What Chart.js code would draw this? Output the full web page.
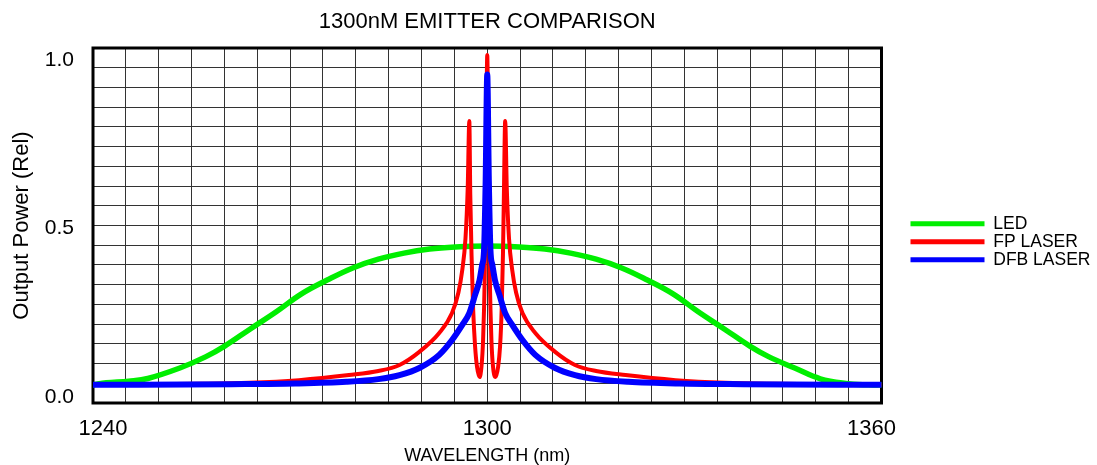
<!DOCTYPE html>
<html>
<head>
<meta charset="utf-8">
<title>1300nM Emitter Comparison</title>
<script src="https://cdn.jsdelivr.net/npm/chart.js@4.4.0/dist/chart.umd.min.js"></script>
<style>
html,body{margin:0;padding:0;background:#fff;overflow:hidden}
</style>
</head>
<body>
<canvas id="chart" width="1097" height="465"></canvas>
<script>
// series (wavelength in nm, relative output power)
const ledNm = [1238.4, 1240.5, 1244, 1247, 1252, 1256, 1259, 1263, 1267, 1271, 1275, 1279, 1283, 1287, 1291, 1295, 1300,
  1305, 1309, 1313, 1317, 1321, 1325, 1329, 1333, 1337, 1341, 1344, 1348, 1352, 1356, 1359.5, 1361.6];
const ledPower = [0.036, 0.042, 0.047, 0.055, 0.086, 0.119, 0.151, 0.202, 0.252, 0.306, 0.347, 0.383, 0.409, 0.427, 0.439, 0.445, 0.448,
  0.445, 0.439, 0.427, 0.409, 0.383, 0.347, 0.306, 0.252, 0.202, 0.151, 0.119, 0.086, 0.054, 0.040, 0.036, 0.036];

const fpNm = [1238.4, 1255, 1262.8, 1270.6, 1278.4, 1283, 1286.3, 1289.4, 1292.5, 1294.5, 1295.5, 1296.1, 1296.6, 1296.95,
  1297.2, 1297.35, 1297.55, 1297.8, 1298.1, 1298.4, 1298.8, 1299.1, 1299.35, 1299.6, 1299.8, 1300,
  1300.2, 1300.4, 1300.65, 1300.9, 1301.3, 1301.7, 1302.0, 1302.25, 1302.45, 1302.6, 1302.8,
  1303.05, 1303.4, 1303.9, 1304.5, 1305.5, 1307.5, 1310.6, 1313.7, 1317, 1321.6, 1329.4, 1337.2, 1345, 1361.6];
const fpPower = [0.036, 0.039, 0.042, 0.050, 0.065, 0.077, 0.095, 0.134, 0.190, 0.249, 0.31, 0.377, 0.47, 0.62,
  0.819, 0.60, 0.42, 0.26, 0.15, 0.09, 0.059, 0.09, 0.17, 0.35, 0.65, 1.015,
  0.65, 0.35, 0.17, 0.09, 0.059, 0.09, 0.15, 0.26, 0.42, 0.60, 0.819,
  0.62, 0.47, 0.377, 0.31, 0.249, 0.190, 0.134, 0.095, 0.077, 0.065, 0.050, 0.042, 0.039, 0.036];

const dfbNm = [1238.4, 1260, 1270, 1278, 1283, 1286.3, 1289.4, 1292.5, 1294.5, 1296.1, 1297.2, 1298.1, 1298.8, 1299.2, 1299.5, 1299.75, 1300,
  1300.25, 1300.5, 1300.8, 1301.2, 1301.9, 1302.8, 1303.9, 1305.5, 1307.5, 1310.6, 1313.7, 1317, 1322, 1330, 1340, 1361.6];
const dfbPower = [0.036, 0.038, 0.040, 0.045, 0.053, 0.065, 0.086, 0.125, 0.169, 0.214, 0.249, 0.303, 0.347, 0.392, 0.436, 0.64, 0.957,
  0.64, 0.436, 0.392, 0.347, 0.303, 0.249, 0.214, 0.169, 0.125, 0.086, 0.065, 0.053, 0.045, 0.040, 0.038, 0.036];

const xTickLabels = [1240, 1300, 1360];
const yTickLabels = [0, 0.5, 1];

// axis extents: 24 x 18 grid cells
const xMin = 1238.44, xMax = 1361.56, xCells = 24;
const yMin = -0.0178, yMax = 1.0356, yCells = 18;

const pts = (xs, ys) => xs.map((x, i) => ({x, y: ys[i]}));

// grid ticks at every cell edge + extra (grid-less) ticks where labels sit
function cellTicks(min, max, n, labels){
  const t = [];
  for(let k = 0; k <= n; k++) t.push({value: min + (max - min) * k / n, grid: true});
  labels.forEach(v => { if(!t.some(o => Math.abs(o.value - v) < 1e-6)) t.push({value: v, grid: false}); });
  return t.sort((a, b) => a.value - b.value);
}
const findLabel = (labels, v) => labels.find(l => Math.abs(l - v) < 1e-6);
const gridColor = c => c.tick && c.tick.grid ? '#333' : 'rgba(0,0,0,0)';

const frame = {
  id: 'frame',
  beforeDatasetsDraw(chart){
    const {ctx, chartArea: a} = chart;
    ctx.save();
    ctx.strokeStyle = '#000';
    ctx.lineWidth = 3;
    ctx.strokeRect(a.left, a.top, a.right - a.left, a.bottom - a.top);
    ctx.restore();
  }
};

Chart.defaults.font.family = '"Liberation Sans", Arial, sans-serif';
Chart.defaults.color = '#000';

const lineStyle = {pointRadius: 0, borderCapStyle: 'round', borderJoinStyle: 'round'};

new Chart(document.getElementById('chart'), {
  type: 'line',
  data: {
    // DFB first so it is painted on top; legend is reversed
    datasets: [
      {label: 'DFB LASER', data: pts(dfbNm, dfbPower), borderColor: '#0000ff', backgroundColor: '#0000ff', borderWidth: 6,
        cubicInterpolationMode: 'monotone', ...lineStyle},
      {label: 'FP LASER', data: pts(fpNm, fpPower), borderColor: '#ff0000', backgroundColor: '#ff0000', borderWidth: 4,
        cubicInterpolationMode: 'monotone', ...lineStyle},
      {label: 'LED', data: pts(ledNm, ledPower), borderColor: '#00ee00', backgroundColor: '#00ee00', borderWidth: 5.5,
        tension: 0.4, ...lineStyle}
    ]
  },
  options: {
    responsive: false,
    animation: false,
    events: [],
    layout: {padding: {left: 0, right: 5, top: 0, bottom: 0}},
    scales: {
      x: {
        type: 'linear', min: xMin, max: xMax,
        afterBuildTicks: s => { s.ticks = cellTicks(xMin, xMax, xCells, xTickLabels); },
        afterFit: s => { s.height = 62; },
        ticks: {
          autoSkip: false, maxRotation: 0, padding: 13,
          font: {size: 22},
          callback: v => { const l = findLabel(xTickLabels, v); return l === undefined ? '' : String(l); }
        },
        grid: {drawTicks: false, lineWidth: 1, color: gridColor},
        border: {display: false},
        title: {display: true, text: 'WAVELENGTH (nm)', font: {size: 18, lineHeight: 1}, padding: {top: 0, bottom: 0}}
      },
      y: {
        type: 'linear', min: yMin, max: yMax,
        afterBuildTicks: s => { s.ticks = cellTicks(yMin, yMax, yCells, yTickLabels); },
        afterFit: s => { s.width = 93; },
        ticks: {
          autoSkip: false, padding: 19,
          font: {size: 21},
          callback: v => { const l = findLabel(yTickLabels, v); return l === undefined ? '' : l.toFixed(1); }
        },
        grid: {drawTicks: false, lineWidth: 1, color: gridColor},
        border: {display: false},
        title: {display: true, text: 'Output Power (Rel)', font: {size: 22}, padding: {top: 8.8, bottom: 0}}
      },
      gap: {
        type: 'linear', position: 'right', display: true,
        ticks: {display: false}, grid: {display: false, drawTicks: false}, border: {display: false},
        afterFit: s => { s.width = 28.5; }
      }
    },
    plugins: {
      title: {
        display: true, fullSize: false,
        text: '1300nM EMITTER COMPARISON',
        font: {size: 22, weight: 'normal'},
        padding: {top: 8.8, bottom: 12.8}
      },
      legend: {
        position: 'right',
        reverse: true,
        title: {display: true, text: '', font: {size: 1}, padding: {top: 17.2, bottom: 0}},
        labels: {
          boxWidth: 74, boxHeight: 5, padding: 0.5,
          font: {size: 17.5},
          generateLabels: chart => Chart.defaults.plugins.legend.labels.generateLabels(chart).map(l => ({...l, lineWidth: 0}))
        }
      },
      tooltip: {enabled: false}
    }
  },
  plugins: [frame]
});
</script>
</body>
</html>
